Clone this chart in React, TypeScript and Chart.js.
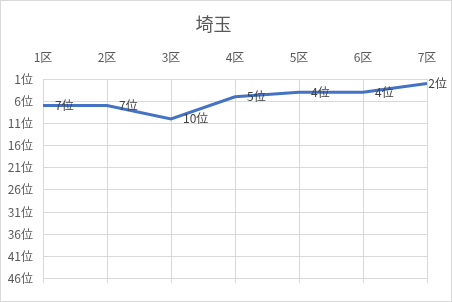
import React, { useEffect, useRef } from "react";
import { Chart, registerables } from "chart.js";

Chart.register(...registerables);

const chartTitle = "埼玉";
const categories = ["1区", "2区", "3区", "4区", "5区", "6区", "7区"];
const ranks = [7, 7, 10, 5, 4, 4, 2];
const rankTicks = [1, 6, 11, 16, 21, 26, 31, 36, 41, 46];
const rankMin = 1;
const rankMax = 47;

const FONT = '"Noto Sans CJK JP", "Noto Sans", sans-serif';

const frameAndLabels = {
  id: "frameAndLabels",
  beforeDraw(chart: any) {
    const { ctx, width, height } = chart;
    ctx.save();
    ctx.fillStyle = "#ffffff";
    ctx.fillRect(0, 0, width, height);
    ctx.strokeStyle = "#D9D9D9";
    ctx.lineWidth = 1;
    ctx.strokeRect(0.5, 0.5, width - 1, height - 1);
    ctx.restore();
  },
  afterDatasetsDraw(chart: any) {
    const { ctx, width } = chart;
    const meta = chart.getDatasetMeta(0);
    const data = chart.data.datasets[0].data;
    ctx.save();
    ctx.font = `12px ${FONT}`;
    ctx.fillStyle = "#404040";
    ctx.textAlign = "left";
    ctx.textBaseline = "middle";
    meta.data.forEach((pt: any, i: number) => {
      const text = `${data[i]}位`;
      const w = ctx.measureText(text).width;
      let x = pt.x + 12;
      if (x + w > width - 5) x = width - 5 - w;
      ctx.fillText(text, x, pt.y);
    });
    ctx.restore();
  },
};

export default function App() {
  const ref = useRef<HTMLCanvasElement | null>(null);

  useEffect(() => {
    document.body.style.margin = "0";
    if (!ref.current) return;
    const chart = new Chart(ref.current, {
      type: "line",
      data: {
        labels: categories,
        datasets: [
          {
            data: ranks,
            borderColor: "#4472C4",
            backgroundColor: "#4472C4",
            borderWidth: 3,
            pointRadius: 0,
            tension: 0,
            fill: false,
          },
        ],
      },
      options: {
        responsive: false,
        animation: false,
        devicePixelRatio: 1,
        layout: { padding: { left: 0, right: 25, top: 0, bottom: 19 } },
        plugins: {
          legend: { display: false },
          tooltip: { enabled: false },
          title: {
            display: true,
            text: chartTitle,
            color: "#595959",
            font: { family: FONT, size: 18, weight: "normal" },
            padding: { top: 13, bottom: 0 },
          },
        },
        scales: {
          x: {
            type: "category",
            position: "top",
            offset: false,
            grid: { color: "#D9D9D9", lineWidth: 1, drawTicks: false, offset: false },
            border: { display: true, color: "#D9D9D9" },
            ticks: {
              color: "#595959",
              font: { family: FONT, size: 12 },
              padding: 14,
              maxRotation: 0,
              autoSkip: false,
            },
            afterFit(scale: any) {
              scale.height = 79 - (13 + 18 * 1.2);
            },
          },
          y: {
            type: "linear",
            reverse: true,
            min: rankMin,
            max: rankMax,
            grid: { color: "#D9D9D9", lineWidth: 1, drawTicks: false },
            border: { display: false },
            afterBuildTicks(scale: any) {
              scale.ticks = rankTicks.map((v) => ({ value: v }));
            },
            ticks: {
              color: "#595959",
              font: { family: FONT, size: 12 },
              padding: 10,
              callback: (v: any) => `${v}位`,
            },
            afterFit(scale: any) {
              scale.width = 43;
            },
          },
        },
      },
      plugins: [frameAndLabels],
    });
    return () => chart.destroy();
  }, []);

  return (
    <div style={{ position: "fixed", left: 0, top: 0, width: 452, height: 302 }}>
      <canvas ref={ref} width={452} height={302} style={{ display: "block" }} />
    </div>
  );
}
